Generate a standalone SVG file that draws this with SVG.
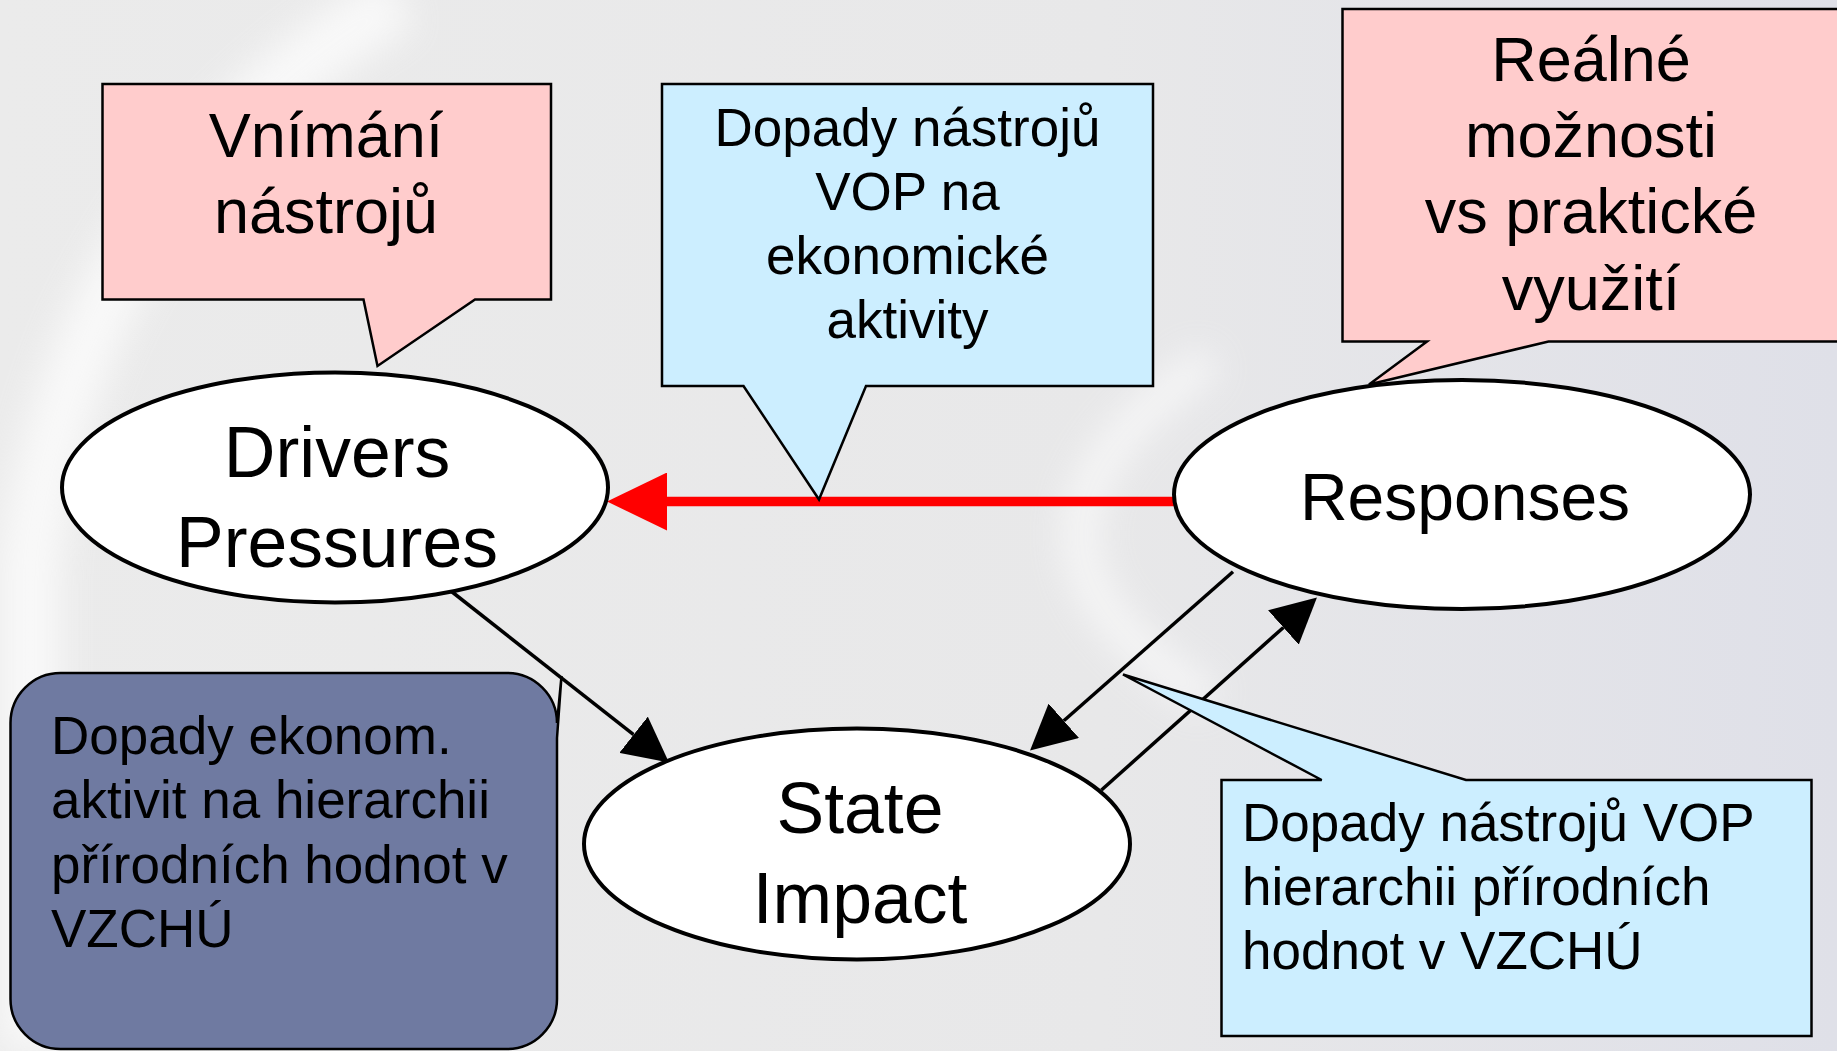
<svg xmlns="http://www.w3.org/2000/svg" width="1837" height="1051" viewBox="0 0 1837 1051">
  <defs>
    <style>
      text { font-family: "Liberation Sans", Arial, sans-serif; fill: #000; }
      .c { text-anchor: middle; }
      .node { fill: #ffffff; stroke: #000; stroke-width: 4; }
      .pink { fill: #ffcccc; stroke: #000; stroke-width: 2.5; }
      .blue { fill: #cceeff; stroke: #000; stroke-width: 2.5; }
      .dark { fill: #6f7aa1; stroke: #000; stroke-width: 2.5; }
      .conn { stroke: #000; stroke-width: 3.5; fill: none; }
      .red { stroke: #ff0000; stroke-width: 9.5; fill: none; }
      .t52 { font-size: 53px; }
    </style>
    <marker id="ah" markerUnits="userSpaceOnUse" viewBox="0 0 45 46" markerWidth="45" markerHeight="46" refX="0" refY="23" orient="auto">
      <path d="M0,0 L45,23 L0,46 Z" fill="#000"/>
    </marker>
    <marker id="ahRed" markerUnits="userSpaceOnUse" viewBox="0 0 60 58" markerWidth="60" markerHeight="58" refX="0" refY="29" orient="auto">
      <path d="M0,0 L60,29 L0,58 Z" fill="#ff0000"/>
    </marker>
    <filter id="blur" x="-50%" y="-50%" width="200%" height="200%">
      <feGaussianBlur stdDeviation="18"/>
    </filter>
    <linearGradient id="bg" x1="0" y1="0" x2="1" y2="0">
      <stop offset="0" stop-color="#ebebeb"/>
      <stop offset="0.6" stop-color="#e8e8e9"/>
      <stop offset="1" stop-color="#dfe0e8"/>
    </linearGradient>
  </defs>

  <g id="background">
    <rect x="0" y="0" width="1837" height="1051" fill="url(#bg)"/>
    <path d="M400,0 Q80,180 30,560 L30,1051" stroke="#ffffff" stroke-width="60" fill="none" opacity="0.7" filter="url(#blur)"/>
    <path d="M1210,360 Q950,540 1210,700" stroke="#ffffff" stroke-width="30" fill="none" opacity="0.7" filter="url(#blur)"/>
  </g>

  <g id="connectors">
    <line class="red" x1="1175" y1="501.5" x2="667" y2="501.5" marker-end="url(#ahRed)"/>
    <line class="conn" x1="449" y1="589.5" x2="633.6" y2="734.7" marker-end="url(#ah)"/>
    <line class="conn" x1="1233" y1="571.7" x2="1063.8" y2="720.8" marker-end="url(#ah)"/>
    <line class="conn" x1="1101.5" y1="790" x2="1283.4" y2="627.5" marker-end="url(#ah)"/>
  </g>

  <g id="drivers">
    <ellipse class="node" cx="335" cy="487.5" rx="273" ry="115"/>
    <text class="c" x="337" y="476.5" font-size="71.5">Drivers</text>
    <text class="c" x="337" y="566.5" font-size="71.5">Pressures</text>
  </g>

  <g id="responses">
    <ellipse class="node" cx="1462" cy="494.5" rx="288" ry="114.5"/>
    <text class="c" x="1465" y="519.5" font-size="66">Responses</text>
  </g>

  <g id="state">
    <ellipse class="node" cx="857" cy="844" rx="273" ry="115.5"/>
    <text class="c" x="860" y="833" font-size="71.5">State</text>
    <text class="c" x="860" y="923" font-size="71.5">Impact</text>
  </g>

  <g id="callout-vnimani">
    <path class="pink" d="M102.5,84 H551 V299.5 H475 L377.5,366 L363.5,299.5 H102.5 Z"/>
    <text class="c" x="326" y="156.5" font-size="63">Vnímání</text>
    <text class="c" x="326" y="232.5" font-size="63">nástrojů</text>
  </g>

  <g id="callout-dopady-ekonomicke">
    <path class="blue" d="M662,84 H1153 V386 H866 L819,499.5 L743.5,386 H662 Z"/>
    <text class="c t52" x="907.5" y="146">Dopady nástrojů</text>
    <text class="c t52" x="907.5" y="209.5">VOP na</text>
    <text class="c t52" x="907.5" y="273.5">ekonomické</text>
    <text class="c t52" x="907.5" y="337.5">aktivity</text>
  </g>

  <g id="callout-realne">
    <path class="pink" d="M1342.5,9 H1842 V341.5 H1548.5 L1369,384.5 L1427,341.5 H1342.5 Z"/>
    <text class="c" x="1591" y="81" font-size="63">Reálné</text>
    <text class="c" x="1591" y="157" font-size="63">možnosti</text>
    <text class="c" x="1591" y="233" font-size="63">vs praktické</text>
    <text class="c" x="1591" y="310" font-size="63">využití</text>
  </g>

  <g id="callout-dopady-ekonom">
    <path class="dark" d="M60.5,673 H507 A50,50 0 0 1 557,723 L561.5,676 L557,738 V999 A50,50 0 0 1 507,1049 H60.5 A50,50 0 0 1 10.5,999 V723 A50,50 0 0 1 60.5,673 Z"/>
    <text class="t52" x="51" y="753.5">Dopady ekonom.</text>
    <text class="t52" x="51" y="818">aktivit na hierarchii</text>
    <text class="t52" x="51" y="882.5">přírodních hodnot v</text>
    <text class="t52" x="51" y="947">VZCHÚ</text>
  </g>

  <g id="callout-dopady-hierarchie">
    <path class="blue" d="M1221.5,780 H1321.7 L1123,674.5 L1466,780 H1811.5 V1036 H1221.5 Z"/>
    <text class="t52" x="1242" y="841">Dopady nástrojů VOP</text>
    <text class="t52" x="1242" y="905">hierarchii přírodních</text>
    <text class="t52" x="1242" y="969">hodnot v VZCHÚ</text>
  </g>
</svg>
